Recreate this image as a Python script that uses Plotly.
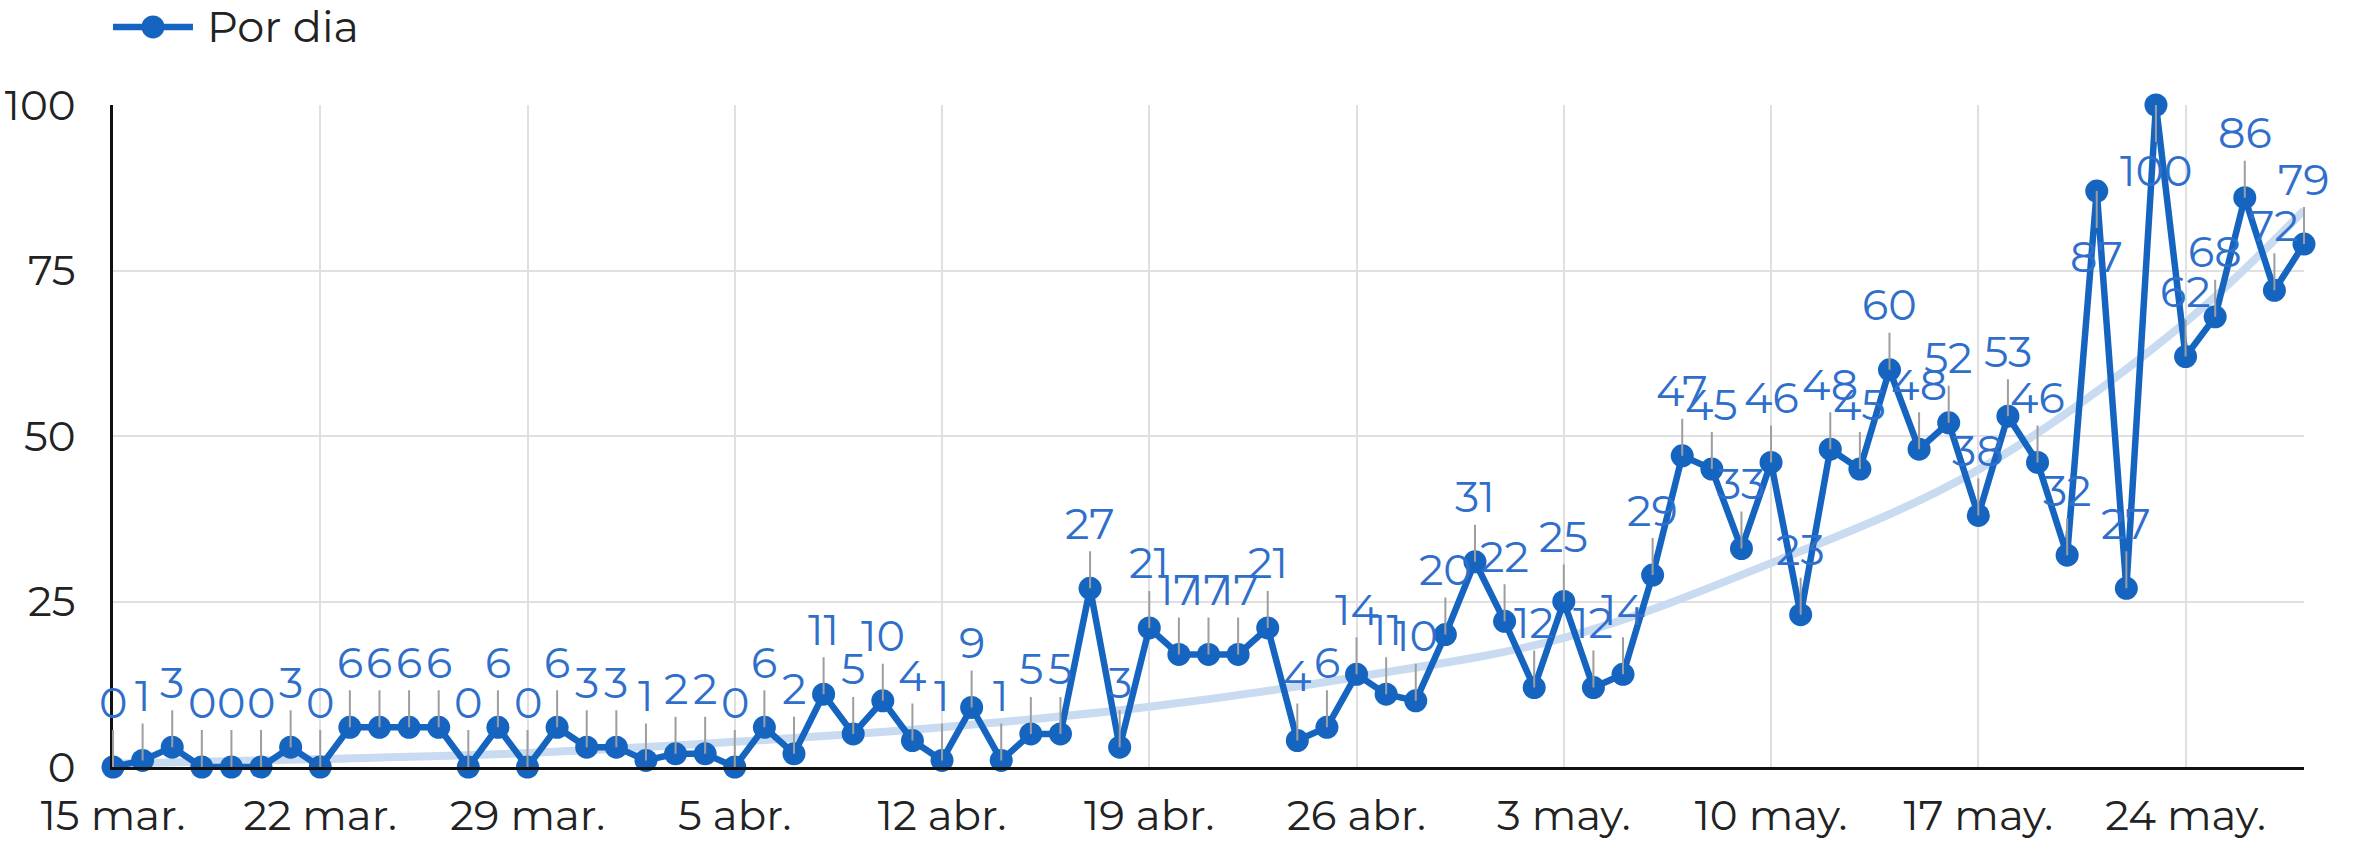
import pandas as pd
import plotly.graph_objects as go

# ---- data ----
start_date = "2020-03-15"
por_dia = [0, 1, 3, 0, 0, 0, 3, 0, 6, 6, 6, 6, 0, 6, 0, 6, 3, 3, 1, 2, 2, 0, 6, 2,
           11, 5, 10, 4, 1, 9, 1, 5, 5, 27, 3, 21, 17, 17, 17, 21, 4, 6, 14, 11, 10,
           20, 31, 22, 12, 25, 12, 14, 29, 47, 45, 33, 46, 23, 48, 45, 60, 48, 52,
           38, 53, 46, 32, 87, 27, 100, 62, 68, 86, 72, 79]
trend_dates = ["2020-03-15", "2020-03-22", "2020-03-29", "2020-04-05", "2020-04-12",
               "2020-04-19", "2020-04-26", "2020-05-03", "2020-05-10", "2020-05-17",
               "2020-05-24", "2020-05-28"]
trend_values = [0.5, 1.2, 2.1, 3.8, 6.0, 9.1, 13.6, 19.5, 30.8, 44.9, 67.2, 84.1]
tick_dates = ["2020-03-15", "2020-03-22", "2020-03-29", "2020-04-05", "2020-04-12",
              "2020-04-19", "2020-04-26", "2020-05-03", "2020-05-10", "2020-05-17",
              "2020-05-24"]
tick_labels = ["15 mar.", "22 mar.", "29 mar.", "5 abr.", "12 abr.", "19 abr.",
               "26 abr.", "3 may.", "10 may.", "17 may.", "24 may."]
y_ticks = [0, 25, 50, 75, 100]
series_name = "Por dia"

dates = pd.date_range(start_date, periods=len(por_dia), freq="D")

FONT = "Montserrat, Open Sans, sans-serif"
LINE_COLOR = "#1565c0"
LABEL_COLOR = "#2f6fcb"
TREND_COLOR = "#c8dbf1"

fig = go.Figure()
fig.add_trace(go.Scatter(
    x=pd.to_datetime(trend_dates), y=trend_values, mode="lines",
    line=dict(color=TREND_COLOR, width=8, shape="spline", smoothing=1.0),
    hoverinfo="skip", showlegend=False, cliponaxis=False))
fig.add_trace(go.Scatter(
    x=dates, y=por_dia, mode="lines+markers", name=series_name,
    line=dict(color=LINE_COLOR, width=6.5),
    marker=dict(color=LINE_COLOR, size=23),
    showlegend=False, cliponaxis=False))

annotations = []
for d, v in zip(dates, por_dia):
    below = v >= 87
    annotations.append(dict(
        x=d, y=v, xref="x", yref="y", text=str(v),
        showarrow=True, arrowhead=0, arrowwidth=2, arrowcolor="#9e9e9e",
        ax=0, ay=65 if below else -65, standoff=0,
        font=dict(family=FONT, size=43, color=LABEL_COLOR)))

# custom legend
LEG_Y = 1.118
annotations.append(dict(
    x=0.0, y=LEG_Y, xref="paper", yref="paper", xanchor="left", yanchor="middle",
    xshift=92, text=series_name, showarrow=False,
    font=dict(family=FONT, size=43, color="#222222")))

shapes = [
    dict(type="line", xref="paper", yref="paper", x0=0.0, x1=0.0365, y0=LEG_Y, y1=LEG_Y,
         line=dict(color=LINE_COLOR, width=6.5)),
    dict(type="circle", xref="paper", yref="paper", xsizemode="pixel", ysizemode="pixel",
         xanchor=0.01825, yanchor=LEG_Y, x0=-11.5, x1=11.5, y0=-11.5, y1=11.5,
         fillcolor=LINE_COLOR, line=dict(width=0)),
]

fig.update_layout(
    width=2358, height=842,
    margin=dict(l=113, r=54, t=105, b=75),
    paper_bgcolor="white", plot_bgcolor="white",
    font=dict(family=FONT, size=42, color="#333333"),
    showlegend=False,
    annotations=annotations,
    shapes=shapes,
    xaxis=dict(
        range=[dates[0], dates[-1]], automargin=False,
        tickmode="array", tickvals=pd.to_datetime(tick_dates), ticktext=tick_labels,
        showgrid=True, gridcolor="#e0e0e0", gridwidth=2,
        showline=True, linecolor="#111111", linewidth=3,
        ticks="", ticklabelstandoff=10, zeroline=False,
        tickfont=dict(family=FONT, size=42, color="#222222")),
    yaxis=dict(
        range=[0, 100], tickmode="array", tickvals=y_ticks, automargin=False,
        showgrid=True, gridcolor="#e0e0e0", gridwidth=2,
        showline=True, linecolor="#111111", linewidth=3,
        ticks="", ticklabelstandoff=26, zeroline=False,
        tickfont=dict(family=FONT, size=42, color="#222222")),
)

fig.write_html(
    "out.html",
    config={"displayModeBar": False},
    post_script="document.body.style.margin='0';document.body.style.overflow='hidden';")
